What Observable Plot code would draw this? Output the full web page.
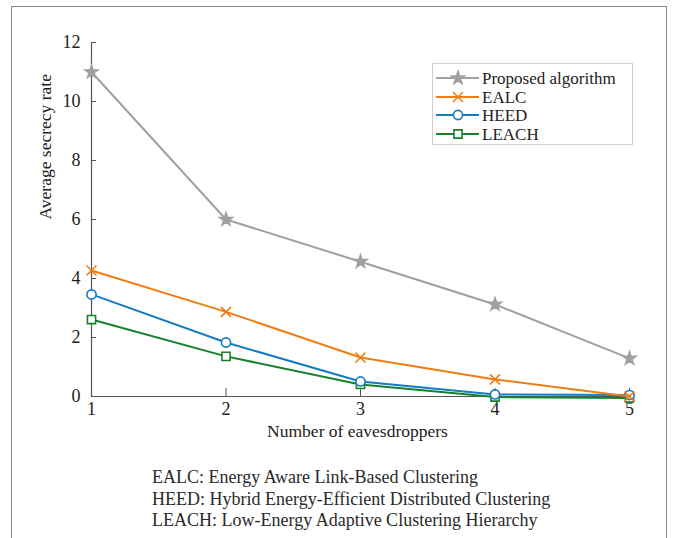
<!DOCTYPE html>
<html>
<head>
<meta charset="utf-8">
<script src="https://cdn.jsdelivr.net/npm/d3@7"></script>
<script src="https://cdn.jsdelivr.net/npm/@observablehq/plot@0.6"></script>
<style>
  html, body { margin: 0; padding: 0; background: #fff; width: 679px; height: 538px; overflow: hidden; }
  #frame { position: absolute; left: 11px; top: 6px; width: 656px; height: 560px; border: 1px solid #8a8a8a; box-sizing: border-box; }
  #chart { position: absolute; left: 0; top: 0; }
  #legend { position: absolute; left: 432px; top: 63px; width: 201px; height: 82px; border: 1px solid #d0d0d0; background: #fff; box-sizing: border-box; }
  #caption { position: absolute; left: 152px; top: 467px; font-family: "Liberation Serif", "DejaVu Serif", serif; font-size: 18px; line-height: 21.5px; color: #2a2a2a; white-space: nowrap; }
</style>
</head>
<body>
<div id="frame"></div>
<div id="chart"></div>
<div id="legend"></div>
<div id="caption"></div>
<script>
const xValues = [1, 2, 3, 4, 5];
const seriesNames = ["Proposed algorithm", "EALC", "HEED", "LEACH"];
const proposed = [11.0, 6.0, 4.57, 3.12, 1.29];
const ealc = [4.27, 2.87, 1.32, 0.58, 0.0];
const heed = [3.46, 1.83, 0.51, 0.07, 0.05];
const leach = [2.61, 1.36, 0.41, -0.02, -0.05];
const yTicks = [0, 2, 4, 6, 8, 10, 12];
const xTicks = [1, 2, 3, 4, 5];
const colors = ["#a0a0a0", "#f07d12", "#137cc2", "#17802d"];
const symbols = ["star", "times", "circle", "square"];
const fills = ["#a0a0a0", "none", "#fff", "#fff"];
const captionLines = [
  "EALC: Energy Aware Link-Based Clustering",
  "HEED: Hybrid Energy-Efficient Distributed Clustering",
  "LEACH: Low-Energy Adaptive Clustering Hierarchy"
];

const allSeries = [proposed, ealc, heed, leach];
const data = [];
allSeries.forEach((vals, i) => vals.forEach((v, j) => data.push({series: seriesNames[i], idx: i, x: xValues[j], y: v})));

const font = "'Liberation Serif', 'DejaVu Serif', serif";
const marks = [];
[3, 2, 1, 0].forEach(i => {
  const d = data.filter(r => r.idx === i);
  marks.push(Plot.line(d, {x: "x", y: "y", stroke: colors[i], strokeWidth: 2}));
  marks.push(Plot.dot(d, {x: "x", y: "y", stroke: colors[i], fill: fills[i], symbol: () => symbols[i], r: i === 0 ? 4 : 4.6, strokeWidth: 1.6}));
});

const chart = Plot.plot({
  width: 679,
  height: 450,
  marginLeft: 91,
  marginRight: 50,
  marginTop: 42,
  marginBottom: 54,
  style: {fontFamily: font, fontSize: "18px", color: "#222", background: "transparent", overflow: "visible"},
  x: {domain: [1, 5]},
  y: {domain: [0, 12]},
  marks: [
    Plot.axisY(yTicks, {tickSize: -5, tickPadding: 16, tickFormat: d3.format("d"), stroke: "#555", fill: "#222", fontSize: 18, label: null}),
    Plot.axisX(xTicks, {tickSize: -8, tickPadding: 14, tickFormat: d3.format("d"), stroke: "#555", fill: "#222", fontSize: 18, label: null}),
    Plot.ruleX([1], {stroke: "#555", strokeWidth: 1.2}),
    Plot.ruleY([0], {stroke: "#555", strokeWidth: 1.2}),
    ...marks,
    Plot.text(["Average secrecy rate"], {frameAnchor: "left", dx: -46, rotate: -90, fontSize: 17.5, fill: "#222"}),
    Plot.text(["Number of eavesdroppers"], {frameAnchor: "bottom", dy: 40, dx: -3, fontSize: 17.5, fill: "#222"})
  ]
});
document.getElementById("chart").appendChild(chart);

// legend
const lg = d3.select("#legend").append("svg").attr("width", 199).attr("height", 80).style("font-family", font);
const rowY = [14, 33, 51, 70];
seriesNames.forEach((name, i) => {
  const g = lg.append("g").attr("transform", `translate(0,${rowY[i]})`);
  g.append("line").attr("x1", 3).attr("x2", 46).attr("stroke", colors[i]).attr("stroke-width", 2);
  const symType = [d3.symbolStar, d3.symbolTimes, d3.symbolCircle, d3.symbolSquare][i];
  const rr = i === 0 ? 4 : 4.6;
  g.append("path").attr("transform", "translate(25,0)")
    .attr("d", d3.symbol(symType, Math.PI * rr * rr)())
    .attr("stroke", colors[i]).attr("fill", fills[i]).attr("stroke-width", 1.6);
  g.append("text").attr("x", 49).attr("y", 5.5).attr("font-size", 17).attr("fill", "#222").text(name);
});

document.getElementById("caption").innerHTML = captionLines.map(s => `<div>${s}</div>`).join("");
</script>
</body>
</html>
